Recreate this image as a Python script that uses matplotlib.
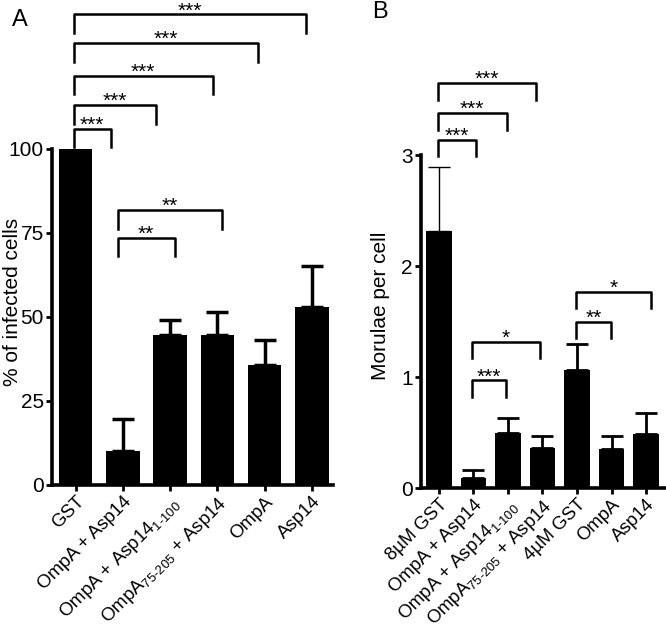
import matplotlib
matplotlib.use("Agg")
import matplotlib.pyplot as plt
import matplotlib.transforms as mtrans

plt.rcParams['font.family'] = ['Liberation Sans', 'DejaVu Sans']
plt.rcParams['mathtext.fontset'] = 'custom'
plt.rcParams['mathtext.rm'] = 'Liberation Sans'
plt.rcParams['mathtext.it'] = 'Liberation Sans'

# ---- Panel A data ----
cats_a = ['GST', 'OmpA + Asp14', r'OmpA + Asp14$_{\text{1-100}}$',
          r'OmpA$_{\text{75-205}}$ + Asp14', 'OmpA', 'Asp14']
vals_a = [100, 10.2, 44.5, 44.5, 35.7, 53.0]
errs_a = [0, 9.5, 4.7, 7.1, 7.4, 12.2]
yticks_a = [0, 25, 50, 75, 100]
# brackets: (x_left, x_right, y_top, label)
brk_a_left = [-0.04, -0.04, -0.04, -0.04, -0.04, 0.89, 0.89]
brk_a_right = [0.74, 1.70, 2.90, 3.86, 4.87, 2.10, 3.10]
brk_a_top = [106, 113, 121.7, 131.5, 140, 73.5, 81.8]
brk_a_lab = ['***', '***', '***', '***', '***', '**', '**']

# ---- Panel B data ----
cats_b = ['8\u00b5M GST', 'OmpA + Asp14', r'OmpA + Asp14$_{\text{1-100}}$',
          r'OmpA$_{\text{75-205}}$ + Asp14', '4\u00b5M GST', 'OmpA', 'Asp14']
vals_b = [2.32, 0.09, 0.50, 0.36, 1.06, 0.35, 0.49]
errs_b = [0.57, 0.07, 0.13, 0.11, 0.24, 0.12, 0.19]
yticks_b = [0, 1, 2, 3]
brk_b_left = [-0.03, -0.03, -0.03, 0.97, 0.97, 3.98, 3.98]
brk_b_right = [1.08, 1.96, 2.81, 1.94, 2.92, 4.98, 6.15]
brk_b_top = [3.14, 3.38, 3.65, 0.97, 1.32, 1.50, 1.77]
brk_b_lab = ['***', '***', '***', '***', '*', '**', '*']

fig = plt.figure(figsize=(6.66, 6.29), dpi=100)

def draw(ax, cats, vals, errs, yticks, ylim, xlim, width, bl, br, bt, blab,
         leg, ylabel, err_lw, xfs):
    x = list(range(len(cats)))
    ax.bar(x, vals, width=width, color='black', zorder=2)
    for i in x:
        if errs[i] > 0:
            ax.errorbar([i], [vals[i]], yerr=[[0], [errs[i]]], fmt='none',
                        ecolor='black', elinewidth=err_lw[i], capsize=8,
                        capthick=err_lw[i], zorder=1)
    for l, r, t, lab in zip(bl, br, bt, blab):
        ax.plot([l, l, r, r], [t - leg, t, t, t - leg], color='black',
                lw=1.8, solid_joinstyle='round', clip_on=False)
        ax.annotate(lab, xy=((l + r) / 2, t), xytext=(0, 2.5),
                    textcoords='offset points', ha='center', va='center',
                    fontsize=15, annotation_clip=False)
    ax.set_xlim(*xlim)
    ax.set_ylim(*ylim)
    ax.set_yticks(yticks)
    ax.set_yticklabels([str(v) for v in yticks], fontsize=15)
    ax.set_xticks(x)
    ax.set_xticklabels(cats, rotation=45, ha='right', rotation_mode='anchor',
                       fontsize=xfs)
    shift = mtrans.ScaledTranslation(-4 / 72, 0, fig.dpi_scale_trans)
    for lab in ax.get_xticklabels():
        lab.set_transform(lab.get_transform() + shift)
    for s in ['top', 'right']:
        ax.spines[s].set_visible(False)
    ax.spines['left'].set_linewidth(2.6)
    ax.spines['bottom'].set_linewidth(2.6)
    ax.spines['left'].set_bounds(0, yticks[-1])
    ax.tick_params(axis='both', width=2, length=4, pad=2)
    ax.set_ylabel(ylabel, fontsize=15)

axA = fig.add_axes([52/666, 1 - 485/629, 281/666, 485/629])
draw(axA, cats_a, vals_a, errs_a, yticks_a, (0, 144.3), (-0.5, 5.45), 0.71,
     brk_a_left, brk_a_right, brk_a_top, brk_a_lab, 5.5,
     '% of infected cells', [2.5] * 6, 13.4)
axA.yaxis.set_label_coords(-0.105, 0.377)

axB = fig.add_axes([421/666, 1 - 488/629, 244/666, 488/629])
draw(axB, cats_b, vals_b, errs_b, yticks_b, (0, 4.4), (-0.52, 6.55), 0.75,
     brk_b_left, brk_b_right, brk_b_top, brk_b_lab, 0.15,
     'Morulae per cell', [1.0, 2, 2, 2, 2, 2, 2], 13.3)
axB.yaxis.set_label_coords(-0.125, 0.373)

fig.text(12/666, 1 - 20/629, 'A', fontsize=17, ha='left', va='center')
fig.text(372/666, 1 - 12/629, 'B', fontsize=17, ha='left', va='center')

fig.savefig('out.png', dpi=100)
